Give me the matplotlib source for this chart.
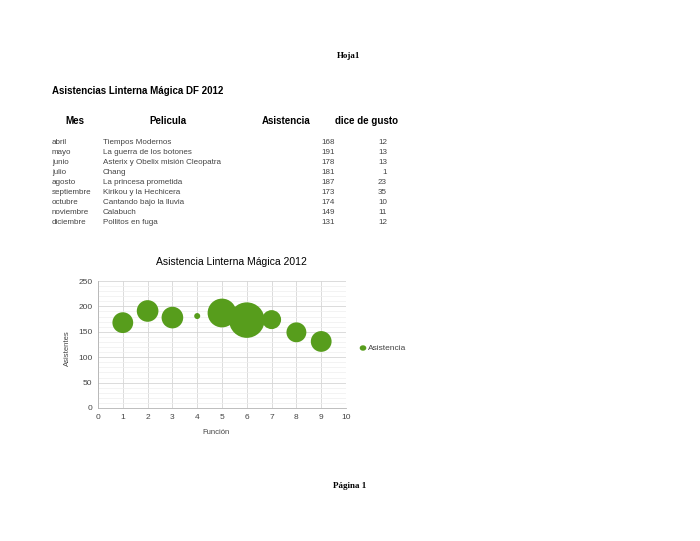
import matplotlib
matplotlib.use("Agg")
import matplotlib.pyplot as plt
from matplotlib.ticker import MultipleLocator

meses = ["abril", "mayo", "junio", "julio", "agosto", "septiembre", "octubre", "noviembre", "diciembre"]
peliculas = ["Tiempos Modernos", "La guerra de los botones", "Asterix y Obelix misión Cleopatra",
             "Chang", "La princesa prometida", "Kirikou y la Hechicera", "Cantando bajo la lluvia",
             "Calabuch", "Pollitos en fuga"]
asistencia = [168, 191, 178, 181, 187, 173, 174, 149, 131]
gusto = [12, 13, 13, 1, 23, 35, 10, 11, 12]
funcion = [1, 2, 3, 4, 5, 6, 7, 8, 9]

W, H = 700, 541
fig = plt.figure(figsize=(7, 5.41), dpi=100)
plt.rcParams['font.family'] = ['Liberation Sans', 'DejaVu Sans']

def fx(x): return x / W
def fy(y): return 1 - y / H

fig.text(fx(349), fy(56), "Hoja1", family="Liberation Serif", fontsize=6.5, weight="bold", ha="center", va="center")
fig.text(fx(52), fy(91), "Asistencias Linterna Mágica DF 2012", fontsize=7, weight="bold", ha="left", va="center")
for txt, x in [("Mes", 75), ("Pelicula", 168), ("Asistencia", 286), ("dice de gusto", 367)]:
    fig.text(fx(x), fy(121), txt, fontsize=7, weight="bold", ha="center", va="center")
for i in range(len(meses)):
    y = 142 + i * 10.1
    fig.text(fx(52), fy(y), meses[i], fontsize=5.75, color="#444444", ha="left", va="center")
    fig.text(fx(103), fy(y), peliculas[i], fontsize=5.75, color="#444444", ha="left", va="center")
    fig.text(fx(335), fy(y), str(asistencia[i]), fontsize=5.75, color="#444444", ha="right", va="center")
    fig.text(fx(387), fy(y), str(gusto[i]), fontsize=5.75, color="#444444", ha="right", va="center")

ax = fig.add_axes([fx(98), fy(408), (346 - 98) / W, (408 - 281) / H])
green = "#579d1c"
sizes = [(0.72 * 6.0) ** 2 * g for g in gusto]
ax.scatter(funcion, asistencia, s=sizes, color=green, edgecolors="none", zorder=3, clip_on=False)
ax.set_xlim(0, 10)
ax.set_ylim(0, 250)
ax.xaxis.set_major_locator(MultipleLocator(1))
ax.yaxis.set_major_locator(MultipleLocator(50))
ax.yaxis.set_minor_locator(MultipleLocator(10))
ax.grid(which="major", color="#d6d6d6", linewidth=0.6, zorder=0)
ax.grid(which="minor", axis="y", color="#efefef", linewidth=0.5, zorder=0)
for s in ["top", "right"]:
    ax.spines[s].set_visible(False)
for s in ["left", "bottom"]:
    ax.spines[s].set_color("#b3b3b3")
    ax.spines[s].set_linewidth(0.6)
ax.tick_params(which="both", length=0, labelsize=6, labelcolor="#444444", pad=4)
ax.set_axisbelow(True)

fig.text(fx(231), fy(262), "Asistencia Linterna Mágica 2012", fontsize=7.5, ha="center", va="center")
fig.text(fx(67), fy(348), "Asistentes", fontsize=5.5, rotation=90, ha="center", va="center", color="#444444")
fig.text(fx(216), fy(433), "Función", fontsize=5.5, ha="center", va="center", color="#444444")
fig.patches.append(matplotlib.patches.Circle((fx(363), fy(348)), 2.6 / W, transform=fig.transFigure,
                                             color=green, figure=fig))
fig.text(fx(368), fy(348), "Asistencia", fontsize=6, ha="left", va="center", color="#444444")

fig.text(fx(350), fy(486), "Página 1", family="Liberation Serif", fontsize=6.5, weight="bold", ha="center", va="center")

fig.savefig("out.png", dpi=100)
